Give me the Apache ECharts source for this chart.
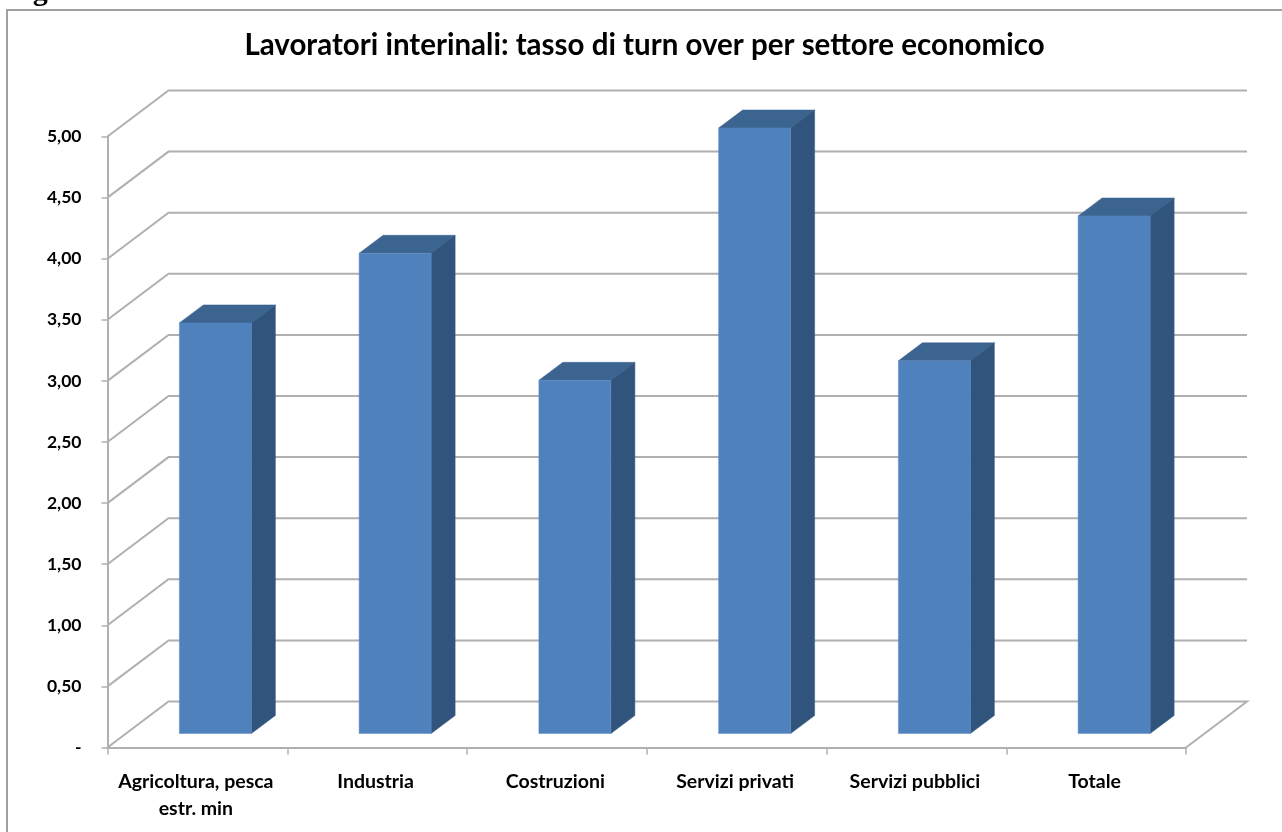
<!DOCTYPE html>
<html>
<head>
<meta charset="utf-8">
<style>html,body{margin:0;padding:0;background:#fff}#c{width:1282px;height:832px}</style>
<script src="https://cdn.jsdelivr.net/npm/echarts@6/dist/echarts.min.js"></script>
</head>
<body>
<div id="c"></div>
<script>
var categories = ['Agricoltura, pesca\nestr. min', 'Industria', 'Costruzioni', 'Servizi privati', 'Servizi pubblici', 'Totale'];
var values = [3.36, 3.93, 2.89, 4.955, 3.05, 4.235];
var yTicks = [0, 0.5, 1, 1.5, 2, 2.5, 3, 3.5, 4, 4.5, 5];
var chartTitle = 'Lavoratori interinali: tasso di turn over per settore economico';
var headingText = 'Figura :';

var depthX = 61, depthY = 46, barInsetX = 18, barInsetY = 14, barDepthX = 24, barDepthY = 18;
var barWidth = 72;
var FRONT = '#4f81bd', TOP = '#3c6491', SIDE = '#31547c';
var LINE = '#b0b0b0';

var chart = echarts.init(document.getElementById('c'), null, {renderer: 'canvas'});

function renderWall(params, api) {
  var v = api.value(0);
  var p = api.coord([0, v]);
  var cs = params.coordSys;
  var x0 = cs.x, y = p[1], x1 = cs.x + cs.width;
  var pts = [[x0, y], [x0 + depthX, y - depthY], [x1 + depthX, y - depthY]];
  if (v === 0) pts.push([x1, y]);
  return {
    type: 'polyline',
    shape: {points: pts},
    style: {fill: 'none', stroke: LINE, lineWidth: 2},
    silent: true
  };
}

function renderBar(params, api) {
  var i = api.value(0), v = api.value(1);
  var top = api.coord([i, v]), base = api.coord([i, 0]);
  var cx = top[0] + barInsetX;
  var l = cx - barWidth / 2, r = cx + barWidth / 2;
  var t = top[1] - barInsetY, b = base[1] - barInsetY;
  var dx = barDepthX, dy = barDepthY;
  return {
    type: 'group',
    children: [
      {type: 'polygon', shape: {points: [[l, t], [l + dx, t - dy], [r + dx, t - dy], [r, t]]},
       style: {fill: TOP, stroke: TOP, lineWidth: 0.5}},
      {type: 'polygon', shape: {points: [[r, t], [r + dx, t - dy], [r + dx, b - dy], [r, b]]},
       style: {fill: SIDE, stroke: SIDE, lineWidth: 0.5}},
      {type: 'rect', shape: {x: l, y: t, width: barWidth, height: b - t},
       style: {fill: FRONT, stroke: '#5c8cc5', lineWidth: 0.5}}
    ]
  };
}

chart.setOption({
  animation: false,
  backgroundColor: '#ffffff',
  title: {
    text: chartTitle, left: 639.5, top: 25, textAlign: 'center',
    textStyle: {fontFamily: 'Lato', fontWeight: 'bold', fontSize: 29.5, color: '#000'}
  },
  graphic: [
    {type: 'polyline', shape: {points: [[7, 840], [7, 10], [1290, 10]]}, silent: true, z: -1,
     style: {fill: 'none', stroke: '#a0a0a0', lineWidth: 2}},
    {type: 'text', x: 6, y: -23, silent: true,
     style: {text: headingText, fontFamily: 'Liberation Serif', fontWeight: 'bold', fontSize: 30, fill: '#000'}}
  ],
  grid: {left: 107.5, width: 1078.5, top: 136.5, height: 611, containLabel: false},
  xAxis: {
    type: 'category', data: categories, boundaryGap: true,
    axisLine: {lineStyle: {color: LINE, width: 2}},
    axisTick: {show: true, alignWithLabel: false, length: 7, lineStyle: {color: LINE, width: 1.5}},
    axisLabel: {fontFamily: 'Lato', fontWeight: 'bold', fontSize: 19.5, color: '#000', lineHeight: 27, margin: 21, interval: 0, padding: [0, 3, 0, 0]}
  },
  yAxis: {
    type: 'value', min: 0, max: 5, interval: 0.5,
    axisLine: {show: true, lineStyle: {color: LINE, width: 2}},
    axisTick: {show: true, length: 6, lineStyle: {color: LINE, width: 1.5}},
    splitLine: {show: false},
    axisLabel: {
      fontFamily: 'Lato', fontWeight: 'bold', fontSize: 17.5, color: '#000', margin: 26,
      formatter: function (v) { return v === 0 ? '-' : v.toFixed(2).replace('.', ','); }
    }
  },
  series: [
    {type: 'custom', coordinateSystem: 'cartesian2d', renderItem: renderWall, z: 1, silent: true,
     clip: false, encode: {y: 0}, data: yTicks.map(function (v) { return [v]; })},
    {type: 'custom', coordinateSystem: 'cartesian2d', renderItem: renderBar, z: 2, silent: true,
     clip: false, encode: {x: 0, y: 1}, data: values.map(function (v, i) { return [i, v]; })}
  ]
});
</script>
</body>
</html>
